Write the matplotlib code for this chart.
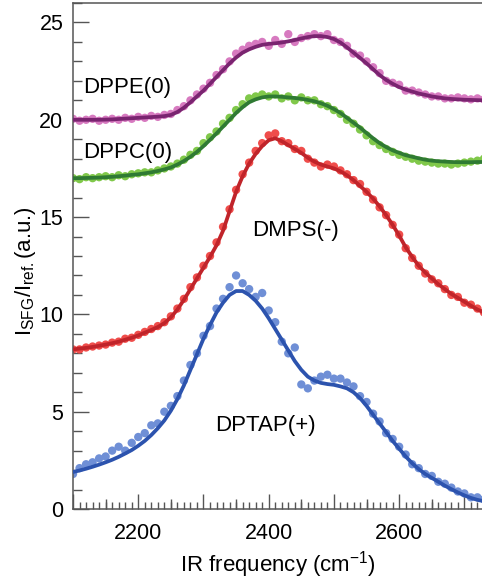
import numpy as np
import matplotlib
matplotlib.use('Agg')
import matplotlib.pyplot as plt
from matplotlib.ticker import MultipleLocator, FixedLocator, FuncFormatter

plt.rcParams['font.family'] = ['Liberation Sans', 'DejaVu Sans']
plt.rcParams['mathtext.fontset'] = 'custom'
plt.rcParams['mathtext.rm'] = 'Liberation Sans'
plt.rcParams['mathtext.it'] = 'Liberation Sans:italic'

# IR frequency grid (cm-1), every 10
freq = np.arange(2100, 2731, 10)

# DPPE(0) - offset 20
dppe_fit = [20.00, 20.00, 20.00, 20.00, 20.00, 20.01, 20.02, 20.04, 20.06, 20.08,
            20.10, 20.12, 20.14, 20.16, 20.19, 20.25, 20.40, 20.62, 20.90, 21.20,
            21.50, 21.85, 22.20, 22.55, 22.90, 23.20, 23.45, 23.62, 23.75, 23.85,
            23.90, 23.93, 23.97, 24.03, 24.10, 24.18, 24.25, 24.30, 24.30, 24.25,
            24.15, 23.97, 23.72, 23.45, 23.18, 22.90, 22.60, 22.30, 22.05, 21.85,
            21.68, 21.55, 21.45, 21.35, 21.28, 21.20, 21.15, 21.10, 21.07, 21.05,
            21.03, 21.02, 21.01, 21.00]
dppe_data = [20.05, 19.95, 20.00, 20.05, 19.95, 20.00, 20.05, 20.00, 20.10, 20.05,
             20.15, 20.10, 20.20, 20.15, 20.25, 20.30, 20.50, 20.70, 21.00, 21.30,
             21.60, 21.90, 22.30, 22.60, 23.00, 23.40, 23.60, 23.80, 23.90, 24.00,
             23.80, 24.10, 23.90, 24.40, 24.00, 24.20, 24.30, 24.40, 24.30, 24.40,
             24.10, 24.00, 23.80, 23.40, 23.30, 23.00, 22.70, 22.40, 22.00, 21.90,
             21.80, 21.50, 21.50, 21.40, 21.30, 21.20, 21.20, 21.10, 21.10, 21.15,
             21.10, 21.05, 21.10, 21.05]

# DPPC(0) - offset 17
dppc_fit = [17.00, 17.00, 17.01, 17.02, 17.03, 17.05, 17.07, 17.10, 17.13, 17.17,
            17.20, 17.25, 17.30, 17.37, 17.45, 17.55, 17.70, 17.88, 18.10, 18.35,
            18.65, 18.97, 19.30, 19.65, 20.00, 20.35, 20.65, 20.90, 21.05, 21.15,
            21.20, 21.20, 21.18, 21.15, 21.12, 21.08, 21.02, 20.95, 20.85, 20.72,
            20.55, 20.35, 20.10, 19.85, 19.60, 19.32, 19.05, 18.80, 18.60, 18.43,
            18.30, 18.18, 18.10, 18.02, 17.95, 17.90, 17.87, 17.85, 17.83, 17.82,
            17.82, 17.82, 17.83, 17.83]
dppc_data = [17.00, 16.95, 17.05, 17.00, 17.05, 17.10, 17.05, 17.15, 17.10, 17.20,
             17.25, 17.30, 17.30, 17.40, 17.50, 17.60, 17.75, 17.95, 18.20, 18.40,
             18.80, 19.10, 19.40, 19.80, 20.10, 20.50, 20.80, 21.10, 21.20, 21.30,
             21.20, 21.30, 21.10, 21.20, 21.00, 21.15, 21.00, 21.00, 20.80, 20.70,
             20.50, 20.30, 20.00, 19.80, 19.50, 19.20, 18.90, 18.70, 18.50, 18.35,
             18.20, 18.10, 18.00, 17.90, 17.85, 17.80, 17.75, 17.75, 17.70, 17.75,
             17.80, 17.85, 17.90, 18.00]

# DMPS(-)
dmps_fit = [8.20, 8.24, 8.28, 8.33, 8.39, 8.45, 8.52, 8.60, 8.70, 8.80,
            8.92, 9.06, 9.20, 9.35, 9.55, 9.85, 10.25, 10.75, 11.30, 11.85,
            12.40, 12.95, 13.55, 14.30, 15.30, 16.30, 17.10, 17.75, 18.25, 18.65,
            18.95, 19.05, 18.90, 18.70, 18.50, 18.30, 18.05, 17.85, 17.70, 17.60,
            17.50, 17.35, 17.15, 16.90, 16.60, 16.30, 15.95, 15.55, 15.10, 14.60,
            14.05, 13.45, 12.95, 12.50, 12.15, 11.85, 11.55, 11.30, 11.05, 10.85,
            10.65, 10.45, 10.25, 10.10]
dmps_data = [8.20, 8.20, 8.30, 8.35, 8.40, 8.45, 8.55, 8.60, 8.75, 8.80,
             8.95, 9.10, 9.25, 9.40, 9.60, 9.90, 10.30, 10.80, 11.40, 11.90,
             12.50, 13.00, 13.70, 14.50, 15.40, 16.40, 17.20, 17.80, 18.40, 18.80,
             19.20, 19.30, 18.90, 18.80, 18.50, 18.40, 18.00, 17.80, 17.60, 17.70,
             17.60, 17.40, 17.20, 16.90, 16.70, 16.30, 15.90, 15.50, 15.10, 14.60,
             14.10, 13.40, 12.90, 12.50, 12.10, 11.80, 11.60, 11.30, 11.00, 10.90,
             10.60, 10.50, 10.30, 10.10]

# DPTAP(+)
dptap_fit = [1.90, 1.98, 2.07, 2.17, 2.28, 2.40, 2.53, 2.68, 2.85, 3.03,
             3.25, 3.50, 3.80, 4.15, 4.55, 5.05, 5.65, 6.35, 7.15, 7.95,
             8.75, 9.45, 10.10, 10.60, 11.00, 11.20, 11.20, 11.00, 10.70, 10.30,
             9.80, 9.25, 8.70, 8.15, 7.60, 7.15, 6.80, 6.60, 6.48, 6.42,
             6.38, 6.30, 6.20, 6.00, 5.70, 5.30, 4.85, 4.40, 3.95, 3.50,
             3.10, 2.70, 2.35, 2.05, 1.80, 1.60, 1.40, 1.20, 1.02, 0.85,
             0.70, 0.57, 0.47, 0.40]
dptap_data = [1.80, 2.10, 2.30, 2.40, 2.60, 2.70, 3.00, 3.20, 3.00, 3.40,
              3.70, 3.90, 4.30, 4.40, 5.00, 5.30, 5.80, 6.60, 7.40, 8.00,
              8.90, 9.40, 10.30, 10.80, 11.40, 12.00, 11.60, 11.30, 10.90, 11.10,
              10.20, 9.60, 8.60, 8.00, 8.30, 6.40, 6.20, 6.60, 6.80, 6.90,
              6.70, 6.70, 6.50, 6.30, 5.80, 5.50, 4.90, 4.50, 3.90, 3.60,
              3.20, 2.80, 2.30, 2.10, 1.80, 1.70, 1.40, 1.30, 1.10, 0.90,
              0.80, 0.60, 0.60, 0.50]

series = [
    (dppe_data, dppe_fit, '#d77ac0', '#7a2470'),
    (dppc_data, dppc_fit, '#80c84a', '#2f7a33'),
    (dmps_data, dmps_fit, '#ef4d4b', '#c0242a'),
    (dptap_data, dptap_fit, '#6f8fd6', '#2c53ae'),
]

fig = plt.figure(figsize=(4.82, 5.80), dpi=100)
ax = fig.add_axes([0.1515, 0.1224, 0.8485, 0.8724])

for data, fit, c_dot, c_line in series:
    ax.scatter(freq, data, s=36, color=c_dot, edgecolors='none', zorder=2)
    ax.plot(freq, fit, color=c_line, lw=2.7, zorder=3)

ax.text(2115, 21.66, 'DPPE(0)', fontsize=16, va='center', ha='left')
ax.text(2115, 18.3, 'DPPC(0)', fontsize=16, va='center', ha='left')
ax.text(2374, 14.3, 'DMPS(-)', fontsize=16, va='center', ha='left')
ax.text(2318, 4.3, 'DPTAP(+)', fontsize=16, va='center', ha='left')

ax.set_xlim(2100, 2727)
ax.set_ylim(0, 26)

ax.xaxis.set_major_locator(MultipleLocator(100))
ax.xaxis.set_minor_locator(MultipleLocator(10))
ax.xaxis.set_major_formatter(FuncFormatter(lambda v, p: '%d' % v if int(round(v)) % 200 == 0 else ''))
ax.yaxis.set_major_locator(MultipleLocator(5))
ax.yaxis.set_minor_locator(MultipleLocator(1))

ax.tick_params(axis='both', which='both', direction='in', color='#555555', top=False, right=False)
ax.tick_params(axis='x', which='major', length=11, width=1, labelsize=15.5, pad=10)
ax.tick_params(axis='x', which='minor', length=5, width=1)
ax.tick_params(axis='y', which='major', length=11.5, width=1, labelsize=15.5, pad=7)
ax.tick_params(axis='y', which='minor', length=6.5, width=1)

# medium ticks at every 50
sec = ax.secondary_xaxis('bottom')
sec.xaxis.set_major_locator(FixedLocator(np.arange(2150, 2730, 100)))
sec.tick_params(direction='in', length=7.5, width=1, color='#555555', labelbottom=False)
sec.spines['bottom'].set_visible(False)

for side in ['left', 'bottom', 'top']:
    ax.spines[side].set_color('#555555')
    ax.spines[side].set_linewidth(1.1)
ax.spines['right'].set_visible(False)

ax.set_xlabel('IR frequency (cm$^{-1}$)', fontsize=16, labelpad=4)
ax.set_ylabel(r'I$_{\mathrm{SFG}}$/I$_{\mathrm{ref.}}$(a.u.)', fontsize=16)
ax.yaxis.set_label_coords(-0.086, 0.47)

fig.savefig('out.png', dpi=100)
